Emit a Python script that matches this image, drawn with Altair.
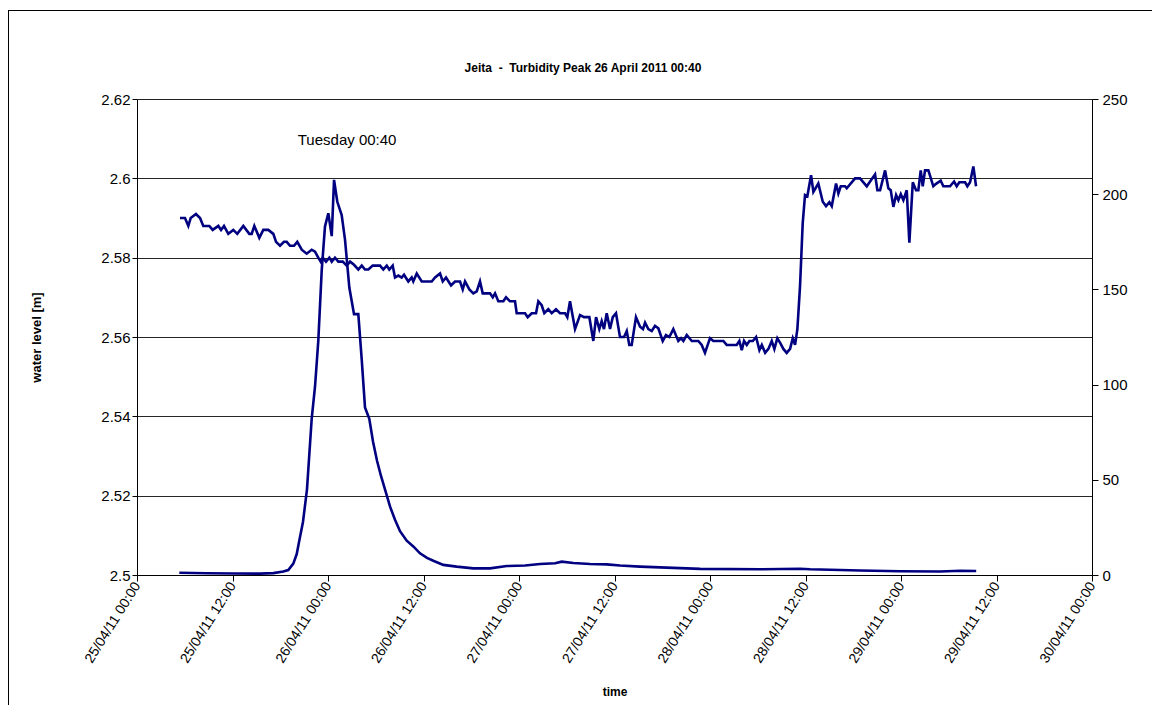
import altair as alt
import pandas as pd

# ---------------- data (hours after 25/04/11 00:00) ----------------
wl_hours = [5.40, 6.03, 6.45, 6.75, 7.41, 7.92, 8.33, 9.09, 9.51, 10.22, 10.56, 10.93, 11.47, 12.10,
            12.60, 13.36, 14.11, 14.41, 14.74, 15.37, 15.87, 16.50, 17.13, 17.47, 17.97, 18.47, 18.81,
            19.23, 19.73, 20.14, 20.70, 21.32, 21.95, 22.37, 22.78, 23.08, 23.34, 23.75, 24.17, 24.47,
            24.88, 25.30, 25.85, 26.35, 26.77, 27.27, 27.81, 28.24, 28.65, 29.07, 29.62, 30.54, 30.95,
            31.38, 31.70, 32.13, 32.42, 32.84, 33.26, 33.55, 34.09, 34.52, 34.72, 35.15, 35.78, 37.03,
            37.45, 38.08, 38.42, 38.83, 39.46, 39.96, 40.59, 40.93, 41.22, 41.76, 42.26, 42.69, 43.10,
            43.44, 44.36, 44.70, 44.99, 45.40, 46.03, 46.37, 46.87, 47.50, 47.71, 48.76, 49.09, 49.60,
            50.14, 50.43, 50.85, 51.18, 51.68, 52.11, 52.65, 53.15, 53.78, 54.07, 54.41, 55.04, 55.67,
            56.17, 56.84, 57.34, 57.68, 58.09, 58.39, 58.68, 59.02, 59.44, 59.78, 60.19, 60.69, 61.20,
            61.54, 61.86, 62.16, 62.70, 63.21, 63.58, 63.84, 64.25, 64.68, 65.09, 65.51, 66.06, 66.47,
            66.89, 67.39, 68.02, 68.36, 68.65, 69.08, 69.71, 70.53, 70.96, 71.37, 72.00, 72.42, 73.68,
            74.10, 75.36, 75.69, 75.99, 76.28, 76.62, 76.95, 77.38, 77.79, 78.21, 78.51, 78.93, 79.34,
            79.76, 80.09, 80.46, 80.80, 81.22, 81.64, 82.06, 82.40, 82.69, 82.98, 83.31, 83.65, 83.94,
            84.23, 84.70, 84.99, 85.61, 86.17, 86.58, 87.00, 87.30, 87.84, 88.13, 88.43, 88.97, 89.18,
            90.23, 90.85, 91.70, 92.74, 93.03, 93.37, 94.00, 94.41, 94.71, 95.04, 95.38, 95.67, 95.97,
            96.30, 96.72, 97.05, 97.48, 97.89, 98.18, 98.48, 98.73, 99.02, 99.44, 100.06, 100.40,
            100.99, 101.32, 102.16, 102.67, 103.00, 103.33, 104.05, 104.34, 104.68, 105.09, 105.43]
wl_values = [2.590, 2.590, 2.588, 2.590, 2.591, 2.590, 2.588, 2.588, 2.587, 2.588, 2.587, 2.588, 2.586, 2.587,
             2.586, 2.588, 2.586, 2.586, 2.588, 2.585, 2.587, 2.587, 2.586, 2.584, 2.583, 2.584, 2.584,
             2.583, 2.583, 2.584, 2.582, 2.581, 2.582, 2.5815, 2.580, 2.579, 2.580, 2.579, 2.580, 2.579,
             2.580, 2.579, 2.579, 2.578, 2.579, 2.5782, 2.577, 2.578, 2.577, 2.577, 2.578, 2.578, 2.577,
             2.578, 2.577, 2.578, 2.575, 2.5755, 2.575, 2.5757, 2.574, 2.575, 2.574, 2.576, 2.574, 2.574,
             2.575, 2.576, 2.574, 2.575, 2.573, 2.574, 2.574, 2.572, 2.574, 2.572, 2.571, 2.5715, 2.574,
             2.571, 2.571, 2.570, 2.571, 2.569, 2.569, 2.570, 2.569, 2.569, 2.566, 2.566, 2.565, 2.566,
             2.566, 2.569, 2.568, 2.566, 2.567, 2.566, 2.567, 2.566, 2.566, 2.565, 2.569, 2.562, 2.5655,
             2.565, 2.565, 2.559, 2.565, 2.562, 2.564, 2.562, 2.566, 2.562, 2.565, 2.566, 2.560, 2.560,
             2.5615, 2.558, 2.558, 2.565, 2.5626, 2.562, 2.5636, 2.562, 2.5615, 2.5628, 2.5622, 2.559, 2.5605,
             2.560, 2.562, 2.559, 2.5597, 2.559, 2.5605, 2.559, 2.559, 2.558, 2.556, 2.5597, 2.559, 2.559,
             2.558, 2.558, 2.559, 2.5567, 2.559, 2.558, 2.559, 2.559, 2.560, 2.5567, 2.558, 2.556, 2.557,
             2.559, 2.557, 2.5597, 2.5586, 2.557, 2.556, 2.557, 2.5597, 2.558, 2.562, 2.5727, 2.5887, 2.5958,
             2.5955, 2.6008, 2.5966, 2.5987, 2.5941, 2.593, 2.594, 2.593, 2.5987, 2.5962, 2.598, 2.598, 2.5975,
             2.600, 2.600, 2.598, 2.601, 2.597, 2.597, 2.602, 2.5975, 2.597, 2.5928, 2.5958, 2.5945, 2.596,
             2.5945, 2.597, 2.5838, 2.599, 2.597, 2.597, 2.602, 2.598, 2.602, 2.602, 2.598, 2.5986,
             2.5994, 2.598, 2.598, 2.5992, 2.598, 2.599, 2.599, 2.598, 2.599, 2.603, 2.598]

turb_hours = [5.32, 8.76, 12.10, 15.46, 17.13, 18.38, 19.01, 19.64, 20.07, 20.39, 20.86, 21.36, 21.95,
              22.37, 22.78, 23.21, 23.62, 24.04, 24.47, 24.76, 25.17, 25.72, 26.14, 26.68, 27.27, 27.81,
              28.24, 28.65, 29.19, 29.66, 30.16, 30.66, 31.16, 31.79, 32.42, 33.05, 33.89, 34.72, 35.56,
              36.44, 37.23, 38.49, 40.17, 42.26, 44.36, 46.46, 48.76, 50.64, 52.53, 53.37, 54.83, 56.92,
              59.02, 60.69, 63.21, 70.76, 78.30, 83.32, 84.58, 90.87, 95.90, 100.93, 103.44, 105.45]
turb_values = [1.2, 0.9, 0.8, 0.7, 1.0, 1.8, 2.6, 6, 11, 18, 28, 45, 82,
               99, 123, 160, 183, 190, 178, 207.5, 196, 189, 176, 151, 137, 137,
               113, 88, 82, 70, 60, 52, 45, 36, 29, 23, 18, 15, 11.4,
               9, 7.5, 5.3, 4.4, 3.5, 3.5, 4.7, 5.0, 5.8, 6.2, 7.0, 6.3, 5.8,
               5.6, 5.0, 4.4, 3.2, 3.0, 3.3, 3.0, 2.4, 2.0, 1.8, 2.2, 2.1]

x_tick_hours = [0, 12, 24, 36, 48, 60, 72, 84, 96, 108, 120]
left_ticks = [2.5, 2.52, 2.54, 2.56, 2.58, 2.6, 2.62]
right_ticks = [0, 50, 100, 150, 200, 250]

note_hours = [26.4]
note_values = [2.6097]
note_texts = ["Tuesday 00:40"]

chart_title = "Jeita \u00a0-\u00a0 Turbidity Peak 26 April 2011 00:40"

start = pd.Timestamp("2011-04-25 00:00")


def to_iso(hours):
    return [(start + pd.Timedelta(hours=h)).strftime("%Y-%m-%dT%H:%M:%S") for h in hours]


wl_df = pd.DataFrame({"time": to_iso(wl_hours), "level": wl_values})
turb_df = pd.DataFrame({"time": to_iso(turb_hours), "turb": turb_values})
note_df = pd.DataFrame({"time": to_iso(note_hours), "level": note_values, "label": note_texts})
title_df = pd.DataFrame({"label": [chart_title]})

x_vals = [alt.DateTime(year=2011, month=4, date=25 + h // 24, hours=h % 24) for h in x_tick_hours]
x_scale = alt.Scale(domain=[alt.DateTime(year=2011, month=4, date=25),
                            alt.DateTime(year=2011, month=4, date=30)])

FONT = "Liberation Sans"
NAVY = "#000080"

x_enc = alt.X("time:T", scale=x_scale,
              axis=alt.Axis(values=x_vals, format="%d/%m/%y %H:%M", labelAngle=302,
                            labelFontSize=14, labelColor="#000", labelFont=FONT,
                            tickSize=6, tickColor="#000", domainColor="#000",
                            title="time", titleFont=FONT, titleFontSize=12,
                            titleFontWeight="bold", titleColor="#000",
                            titleX=477.5, titleY=116, titleBaseline="middle",
                            grid=False, labelPadding=2))

wl_line = alt.Chart(wl_df).mark_line(color=NAVY, strokeWidth=2.6, interpolate="linear").encode(
    x=x_enc,
    y=alt.Y("level:Q", scale=alt.Scale(domain=[2.5, 2.62], nice=False, zero=False),
            axis=alt.Axis(values=left_ticks, format="~g", orient="left",
                          labelFontSize=15, labelFont=FONT, labelColor="#000",
                          tickSize=5, tickColor="#000", domainColor="#000",
                          grid=True, gridColor="#000", gridWidth=1, gridOpacity=0.85,
                          title="water level [m]", titleFont=FONT, titleFontSize=13,
                          titleFontWeight="bold", titleColor="#000", titleAngle=270,
                          titleX=-101, titleY=238, titleAlign="center", titleBaseline="middle"))
)

note = alt.Chart(note_df).mark_text(font=FONT, fontSize=15, color="#000").encode(
    x=alt.X("time:T", scale=x_scale),
    y=alt.Y("level:Q", scale=alt.Scale(domain=[2.5, 2.62], nice=False, zero=False)),
    text="label:N",
)

turb_line = alt.Chart(turb_df).mark_line(color=NAVY, strokeWidth=2.6).encode(
    x=alt.X("time:T", scale=x_scale),
    y=alt.Y("turb:Q", scale=alt.Scale(domain=[0, 250], nice=False),
            axis=alt.Axis(values=right_ticks, orient="right", labelFontSize=15,
                          labelFont=FONT, labelColor="#000", tickSize=6, tickColor="#000",
                          domainColor="#000", grid=False, title=None, labelPadding=4))
)

title_mark = alt.Chart(title_df).mark_text(font=FONT, fontSize=12, fontWeight="bold",
                                           color="#000", align="center", baseline="middle").encode(
    text="label:N", x=alt.value(446), y=alt.value(-31)
)

frame = alt.Chart(wl_df).mark_rule(color="#000", strokeWidth=1).encode(
    x=alt.value(-129), x2=alt.value(1030), y=alt.value(-88.5)
)
frame_left = alt.Chart(wl_df).mark_rule(color="#000", strokeWidth=1).encode(
    x=alt.value(-128.5), y=alt.value(-88.5), y2=alt.value(620)
)

left_layer = alt.layer(wl_line, note)

chart = alt.layer(left_layer, turb_line, title_mark, frame, frame_left).resolve_scale(
    y="independent"
).properties(
    width=955, height=476,
    autosize=alt.AutoSizeParams(type="none"),
    padding={"left": 129, "top": 91, "right": 60, "bottom": 130},
).configure_view(fill="#C0C0C0", strokeOpacity=0).configure(background="#ffffff")

chart.save("out.html", embed_options={"renderer": "svg", "actions": False})
